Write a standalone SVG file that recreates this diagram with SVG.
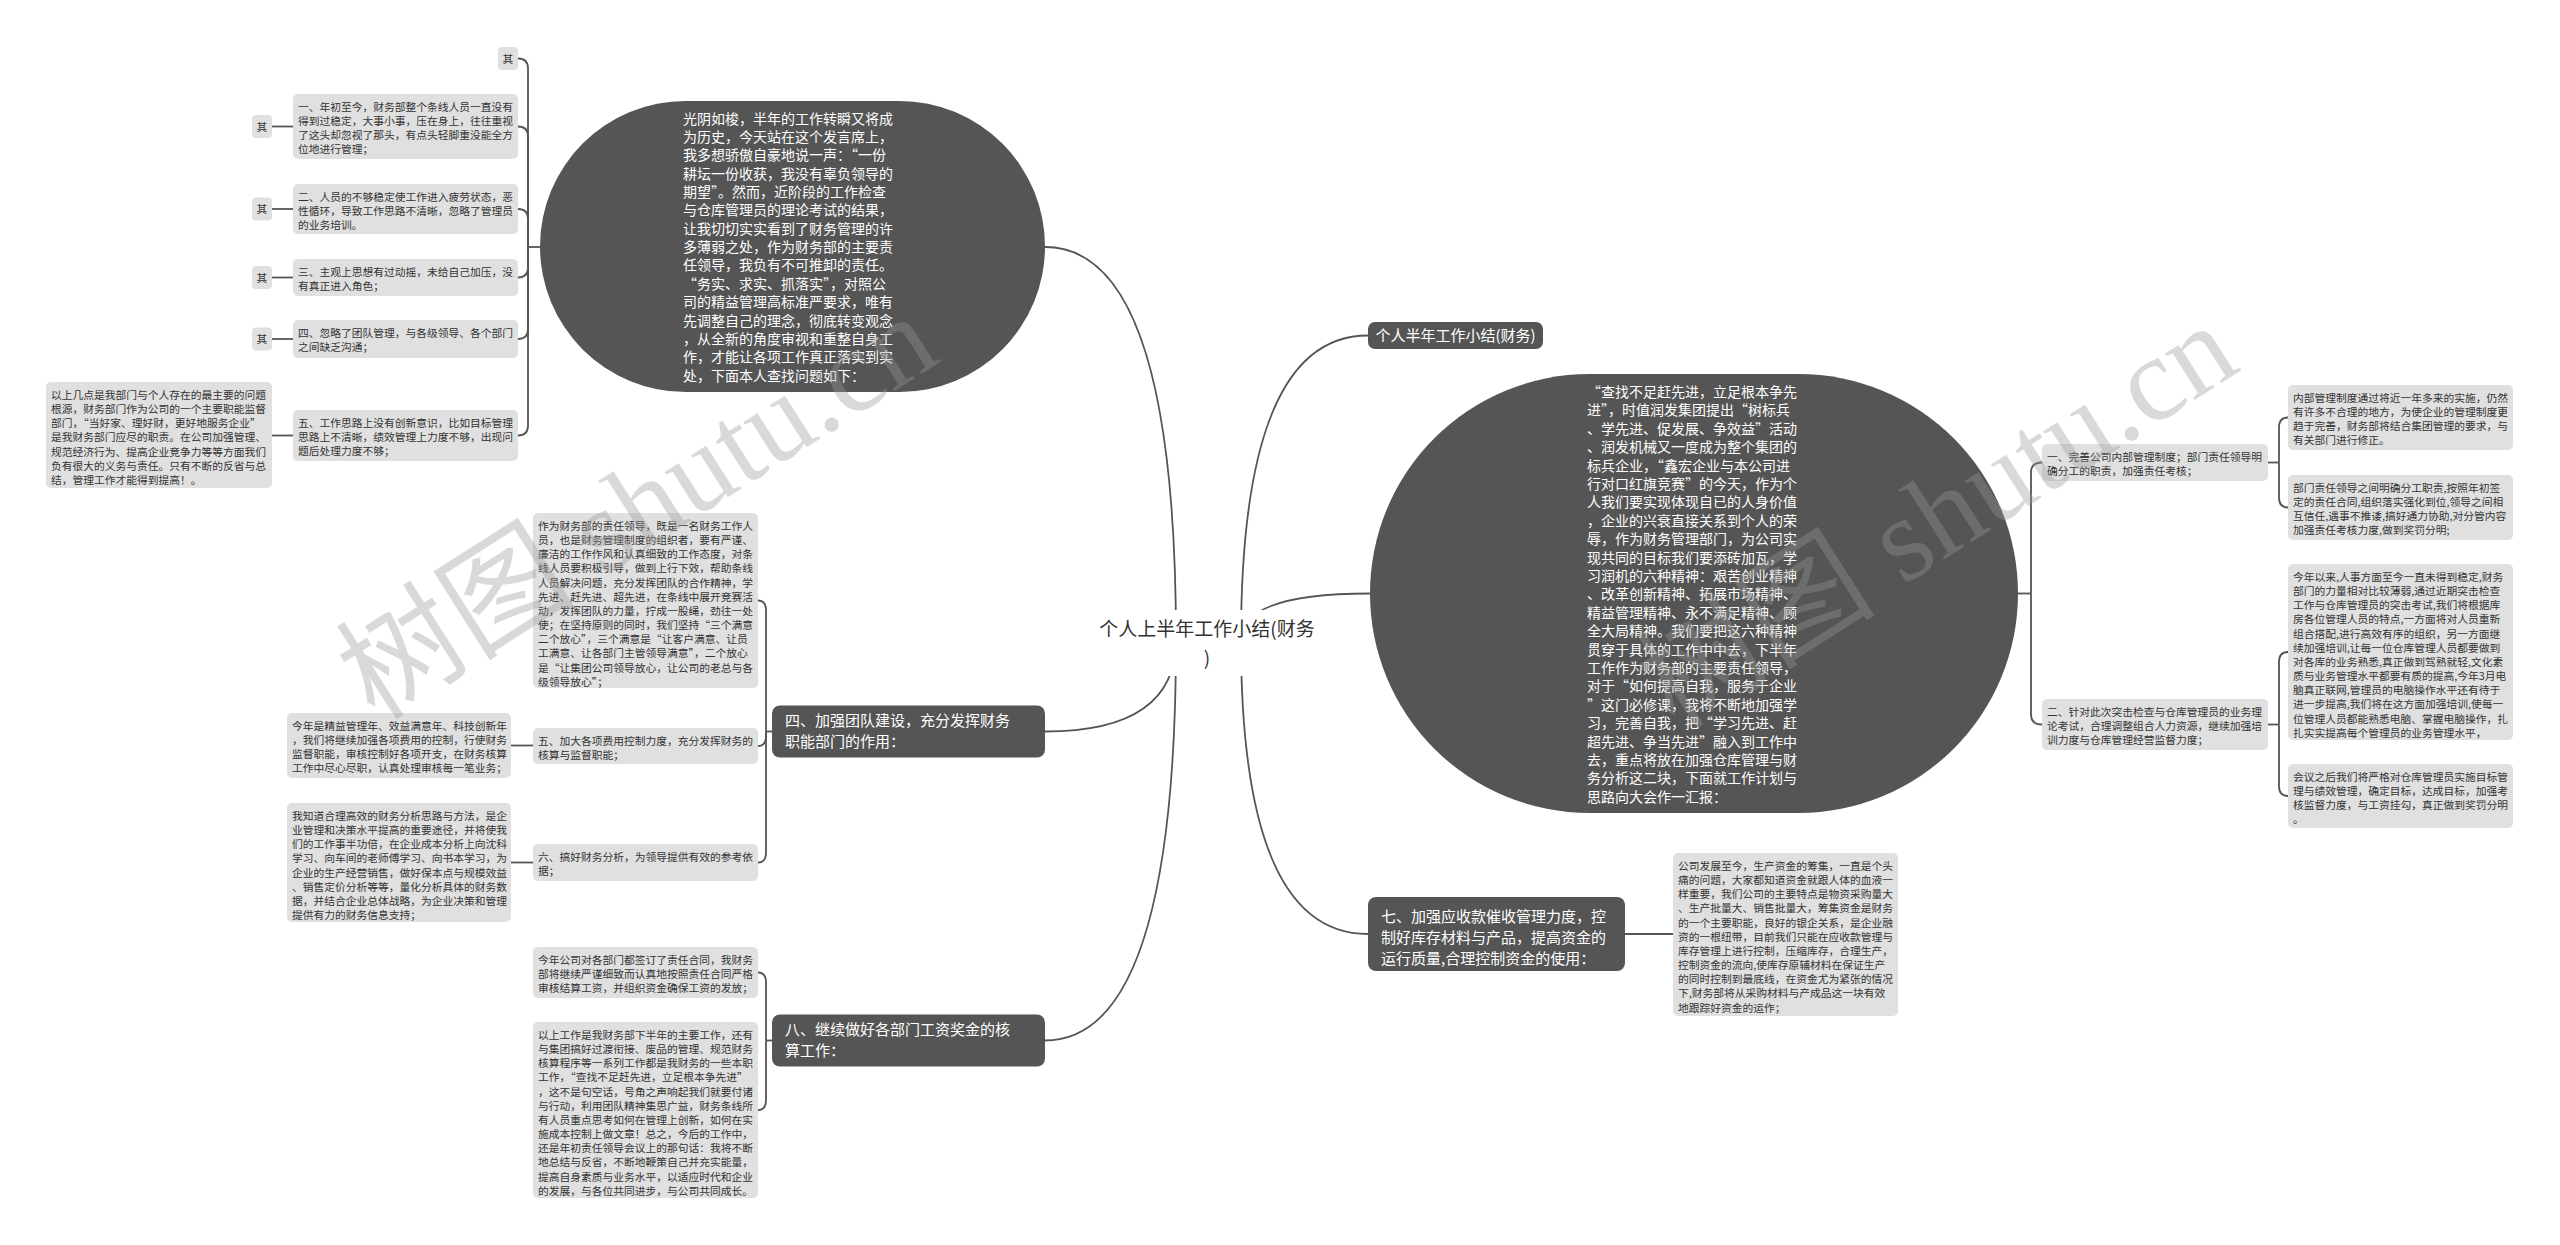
<svg xmlns="http://www.w3.org/2000/svg" width="2560" height="1245" viewBox="0 0 2560 1245">
<style>
text{font-family:"Noto Sans CJK SC","Noto Sans",sans-serif}
.leaf{fill:#e0e0e0}
.lt{font-size:10.75px;fill:#333}
.dark{fill:#555}
.dt{font-size:15px;fill:#fff}
.et{font-size:14px;fill:#fff}
.ct{font-size:19px;fill:#333}
.conn path{fill:none;stroke:#555;stroke-width:1.8}
.wm{font-family:"Liberation Serif","Noto Sans CJK SC",serif;font-size:120px;fill:#999;opacity:0.36}
</style>
<rect width="2560" height="1245" fill="#fff"/>
<g id="connectors" class="conn">
<path d="M1176 640 Q1176 247 1045 247"/>
<path d="M1176 640 Q1176 731.5 1045 731.5"/>
<path d="M1176 640 Q1176 1040.5 1045 1040.5"/>
<path d="M1241 640 Q1241 335.5 1368 335.5"/>
<path d="M1241 640 Q1241 593.5 1370 593.5"/>
<path d="M1241 640 Q1241 934 1368 934"/>
<path d="M540 247 H528"/>
<path d="M528 247 V68.5 Q528 58.5 518 58.5"/>
<path d="M528 247 V136.5 Q528 126.5 518 126.5"/>
<path d="M528 247 V219 Q528 209 518 209"/>
<path d="M528 247 V267.5 Q528 277.5 518 277.5"/>
<path d="M528 247 V329 Q528 339 518 339"/>
<path d="M528 247 V425.5 Q528 435.5 518 435.5"/>
<path d="M272 126.5 H293"/>
<path d="M272 209 H293"/>
<path d="M272 277.5 H293"/>
<path d="M272 339 H293"/>
<path d="M272 435.5 H293"/>
<path d="M772 731.5 H766"/>
<path d="M766 731.5 V610.5 Q766 600.5 758 600.5"/>
<path d="M766 731.5 V736 Q766 746 758 746"/>
<path d="M766 731.5 V852.5 Q766 862.5 758 862.5"/>
<path d="M511 745.5 H533"/>
<path d="M511 862.5 H533"/>
<path d="M772 1040.5 H766"/>
<path d="M766 1040.5 V982.5 Q766 972.5 758 972.5"/>
<path d="M766 1040.5 V1100 Q766 1110 758 1110"/>
<path d="M2018 593.5 H2031"/>
<path d="M2031 593.5 V472.5 Q2031 462.5 2042 462.5"/>
<path d="M2031 593.5 V714.5 Q2031 724.5 2042 724.5"/>
<path d="M2268 462.5 H2279"/>
<path d="M2279 462.5 V427.5 Q2279 417.5 2288 417.5"/>
<path d="M2279 462.5 V497.5 Q2279 507.5 2288 507.5"/>
<path d="M2268 724.5 H2279"/>
<path d="M2279 724.5 V662 Q2279 652 2288 652"/>
<path d="M2279 724.5 V786 Q2279 796 2288 796"/>
<path d="M1625 934 H1673"/>
</g>

<g id="center">
<rect x="1092" y="610" width="232" height="66" fill="#fff"/>
<text class="ct" text-anchor="middle"><tspan x="1207" y="636">个人上半年工作小结(财务</tspan><tspan x="1207" y="665">)</tspan></text>
</g>

<g id="intro">
<rect class="dark" x="540" y="101" width="505" height="291" rx="145.5"/>
<text class="et"><tspan x="683" y="123.6">光阴如梭，半年的工作转瞬又将成</tspan><tspan x="683" dy="18.36">为历史，今天站在这个发言席上，</tspan><tspan x="683" dy="18.36">我多想骄傲自豪地说一声：“一份</tspan><tspan x="683" dy="18.36">耕坛一份收获，我没有辜负领导的</tspan><tspan x="683" dy="18.36">期望”。然而，近阶段的工作检查</tspan><tspan x="683" dy="18.36">与仓库管理员的理论考试的结果，</tspan><tspan x="683" dy="18.36">让我切切实实看到了财务管理的许</tspan><tspan x="683" dy="18.36">多薄弱之处，作为财务部的主要责</tspan><tspan x="683" dy="18.36">任领导，我负有不可推卸的责任。</tspan><tspan x="683" dy="18.36">“务实、求实、抓落实”，对照公</tspan><tspan x="683" dy="18.36">司的精益管理高标准严要求，唯有</tspan><tspan x="683" dy="18.36">先调整自己的理念，彻底转变观念</tspan><tspan x="683" dy="18.36">，从全新的角度审视和重整自身工</tspan><tspan x="683" dy="18.36">作，才能让各项工作真正落实到实</tspan><tspan x="683" dy="18.36">处，下面本人查找问题如下：</tspan></text>
</g>

<g id="qi0"><rect class="leaf" x="498" y="47" width="20" height="23" rx="4"/><text class="lt" x="508" y="62.5" text-anchor="middle">其</text></g>

<g id="p1"><rect class="leaf" x="293" y="94" width="225" height="65" rx="5"/>
<text class="lt"><tspan x="298" y="111">一、年初至今，财务部整个条线人员一直没有</tspan><tspan x="298" dy="14.15">得到过稳定，大事小事，压在身上，往往重视</tspan><tspan x="298" dy="14.15">了这头却忽视了那头，有点头轻脚重没能全方</tspan><tspan x="298" dy="14.15">位地进行管理；</tspan></text></g>
<g id="qi1"><rect class="leaf" x="252" y="115" width="20" height="23" rx="4"/><text class="lt" x="262" y="130.5" text-anchor="middle">其</text></g>

<g id="p2"><rect class="leaf" x="293" y="184" width="225" height="50" rx="5"/>
<text class="lt"><tspan x="298" y="201">二、人员的不够稳定使工作进入疲劳状态，恶</tspan><tspan x="298" dy="14.15">性循环，导致工作思路不清晰，忽略了管理员</tspan><tspan x="298" dy="14.15">的业务培训。</tspan></text></g>
<g id="qi2"><rect class="leaf" x="252" y="197.5" width="20" height="23" rx="4"/><text class="lt" x="262" y="213" text-anchor="middle">其</text></g>

<g id="p3"><rect class="leaf" x="293" y="259" width="225" height="37" rx="5"/>
<text class="lt"><tspan x="298" y="276">三、主观上思想有过动摇，未给自己加压，没</tspan><tspan x="298" dy="14.15">有真正进入角色；</tspan></text></g>
<g id="qi3"><rect class="leaf" x="252" y="266" width="20" height="23" rx="4"/><text class="lt" x="262" y="281.5" text-anchor="middle">其</text></g>

<g id="p4"><rect class="leaf" x="293" y="320" width="225" height="38" rx="5"/>
<text class="lt"><tspan x="298" y="337">四、忽略了团队管理，与各级领导、各个部门</tspan><tspan x="298" dy="14.15">之间缺乏沟通；</tspan></text></g>
<g id="qi4"><rect class="leaf" x="252" y="327.5" width="20" height="23" rx="4"/><text class="lt" x="262" y="343" text-anchor="middle">其</text></g>

<g id="p5"><rect class="leaf" x="293" y="410" width="225" height="51" rx="5"/>
<text class="lt"><tspan x="298" y="427">五、工作思路上没有创新意识，比如目标管理</tspan><tspan x="298" dy="14.15">思路上不清晰，绩效管理上力度不够，出现问</tspan><tspan x="298" dy="14.15">题后处理力度不够；</tspan></text></g>

<g id="p5c"><rect class="leaf" x="46" y="382" width="226" height="106" rx="5"/>
<text class="lt"><tspan x="51" y="399">以上几点是我部门与个人存在的最主要的问题</tspan><tspan x="51" dy="14.15">根源，财务部门作为公司的一个主要职能监督</tspan><tspan x="51" dy="14.15">部门，“当好家、理好财，更好地服务企业”</tspan><tspan x="51" dy="14.15">是我财务部门应尽的职责。在公司加强管理、</tspan><tspan x="51" dy="14.15">规范经济行为、提高企业竞争力等等方面我们</tspan><tspan x="51" dy="14.15">负有很大的义务与责任。只有不断的反省与总</tspan><tspan x="51" dy="14.15">结，管理工作才能得到提高！。</tspan></text></g>

<g id="team"><rect class="dark" x="772" y="705.5" width="273" height="52" rx="8"/>
<text class="dt"><tspan x="785" y="725.7">四、加强团队建设，充分发挥财务</tspan><tspan x="785" dy="21">职能部门的作用：</tspan></text></g>

<g id="t1"><rect class="leaf" x="533" y="513" width="225" height="175" rx="5"/>
<text class="lt"><tspan x="538" y="530">作为财务部的责任领导，既是一名财务工作人</tspan><tspan x="538" dy="14.15">员，也是财务管理制度的组织者，要有严谨、</tspan><tspan x="538" dy="14.15">廉洁的工作作风和认真细致的工作态度，对条</tspan><tspan x="538" dy="14.15">线人员要积极引导，做到上行下效，帮助条线</tspan><tspan x="538" dy="14.15">人员解决问题，充分发挥团队的合作精神，学</tspan><tspan x="538" dy="14.15">先进、赶先进、超先进，在条线中展开竞赛活</tspan><tspan x="538" dy="14.15">动，发挥团队的力量，拧成一股绳，劲往一处</tspan><tspan x="538" dy="14.15">使；在坚持原则的同时，我们坚持“三个满意</tspan><tspan x="538" dy="14.15">二个放心”，三个满意是“让客户满意、让员</tspan><tspan x="538" dy="14.15">工满意、让各部门主管领导满意”，二个放心</tspan><tspan x="538" dy="14.15">是“让集团公司领导放心，让公司的老总与各</tspan><tspan x="538" dy="14.15">级领导放心”；</tspan></text></g>

<g id="t2"><rect class="leaf" x="533" y="728" width="225" height="36" rx="5"/>
<text class="lt"><tspan x="538" y="745">五、加大各项费用控制力度，充分发挥财务的</tspan><tspan x="538" dy="14.15">核算与监督职能；</tspan></text></g>
<g id="t2c"><rect class="leaf" x="287" y="713" width="224" height="65" rx="5"/>
<text class="lt"><tspan x="292" y="730">今年是精益管理年、效益满意年、科技创新年</tspan><tspan x="292" dy="14.15">，我们将继续加强各项费用的控制，行使财务</tspan><tspan x="292" dy="14.15">监督职能，审核控制好各项开支，在财务核算</tspan><tspan x="292" dy="14.15">工作中尽心尽职，认真处理审核每一笔业务；</tspan></text></g>

<g id="t3"><rect class="leaf" x="533" y="844" width="225" height="37" rx="5"/>
<text class="lt"><tspan x="538" y="861">六、搞好财务分析，为领导提供有效的参考依</tspan><tspan x="538" dy="14.15">据；</tspan></text></g>
<g id="t3c"><rect class="leaf" x="287" y="803" width="224" height="119" rx="5"/>
<text class="lt"><tspan x="292" y="820">我知道合理高效的财务分析思路与方法，是企</tspan><tspan x="292" dy="14.15">业管理和决策水平提高的重要途径，并将使我</tspan><tspan x="292" dy="14.15">们的工作事半功倍，在企业成本分析上向沈科</tspan><tspan x="292" dy="14.15">学习、向车间的老师傅学习、向书本学习，为</tspan><tspan x="292" dy="14.15">企业的生产经营销售，做好保本点与规模效益</tspan><tspan x="292" dy="14.15">、销售定价分析等等，量化分析具体的财务数</tspan><tspan x="292" dy="14.15">据，并结合企业总体战略，为企业决策和管理</tspan><tspan x="292" dy="14.15">提供有力的财务信息支持；</tspan></text></g>

<g id="wage"><rect class="dark" x="772" y="1014.5" width="273" height="52" rx="8"/>
<text class="dt"><tspan x="785" y="1034.7">八、继续做好各部门工资奖金的核</tspan><tspan x="785" dy="21">算工作：</tspan></text></g>
<g id="w1"><rect class="leaf" x="533" y="947" width="225" height="51" rx="5"/>
<text class="lt"><tspan x="538" y="964">今年公司对各部门都签订了责任合同，我财务</tspan><tspan x="538" dy="14.15">部将继续严谨细致而认真地按照责任合同严格</tspan><tspan x="538" dy="14.15">审核结算工资，并组织资金确保工资的发放；</tspan></text></g>
<g id="w2"><rect class="leaf" x="533" y="1022" width="225" height="176" rx="5"/>
<text class="lt"><tspan x="538" y="1039">以上工作是我财务部下半年的主要工作，还有</tspan><tspan x="538" dy="14.15">与集团搞好过渡衔接、废品的管理、规范财务</tspan><tspan x="538" dy="14.15">核算程序等一系列工作都是我财务的一些本职</tspan><tspan x="538" dy="14.15">工作，“查找不足赶先进，立足根本争先进”</tspan><tspan x="538" dy="14.15">，这不是句空话，号角之声响起我们就要付诸</tspan><tspan x="538" dy="14.15">与行动，利用团队精神集思广益，财务条线所</tspan><tspan x="538" dy="14.15">有人员重点思考如何在管理上创新，如何在实</tspan><tspan x="538" dy="14.15">施成本控制上做文章！总之，今后的工作中，</tspan><tspan x="538" dy="14.15">还是年初责任领导会议上的那句话：我将不断</tspan><tspan x="538" dy="14.15">地总结与反省，不断地鞭策自己并充实能量，</tspan><tspan x="538" dy="14.15">提高自身素质与业务水平，以适应时代和企业</tspan><tspan x="538" dy="14.15">的发展，与各位共同进步，与公司共同成长。</tspan></text></g>

<g id="title2"><rect class="dark" x="1368" y="322" width="175" height="27" rx="7"/>
<text class="dt" x="1455.5" y="341" text-anchor="middle">个人半年工作小结(财务)</text></g>

<g id="plan">
<rect class="dark" x="1370" y="374" width="648" height="439" rx="219.5"/>
<text class="et"><tspan x="1587" y="397">“查找不足赶先进，立足根本争先</tspan><tspan x="1587" dy="18.4">进”，时值润发集团提出“树标兵</tspan><tspan x="1587" dy="18.4">、学先进、促发展、争效益”活动</tspan><tspan x="1587" dy="18.4">、润发机械又一度成为整个集团的</tspan><tspan x="1587" dy="18.4">标兵企业，“鑫宏企业与本公司进</tspan><tspan x="1587" dy="18.4">行对口红旗竞赛”的今天，作为个</tspan><tspan x="1587" dy="18.4">人我们要实现体现自已的人身价值</tspan><tspan x="1587" dy="18.4">，企业的兴衰直接关系到个人的荣</tspan><tspan x="1587" dy="18.4">辱，作为财务管理部门，为公司实</tspan><tspan x="1587" dy="18.4">现共同的目标我们要添砖加瓦，学</tspan><tspan x="1587" dy="18.4">习润机的六种精神：艰苦创业精神</tspan><tspan x="1587" dy="18.4">、改革创新精神、拓展市场精神、</tspan><tspan x="1587" dy="18.4">精益管理精神、永不满足精神、顾</tspan><tspan x="1587" dy="18.4">全大局精神。我们要把这六种精神</tspan><tspan x="1587" dy="18.4">贯穿于具体的工作中中去，下半年</tspan><tspan x="1587" dy="18.4">工作作为财务部的主要责任领导，</tspan><tspan x="1587" dy="18.4">对于“如何提高自我，服务于企业</tspan><tspan x="1587" dy="18.4">”这门必修课，我将不断地加强学</tspan><tspan x="1587" dy="18.4">习，完善自我，把“学习先进、赶</tspan><tspan x="1587" dy="18.4">超先进、争当先进”融入到工作中</tspan><tspan x="1587" dy="18.4">去，重点将放在加强仓库管理与财</tspan><tspan x="1587" dy="18.4">务分析这二块，下面就工作计划与</tspan><tspan x="1587" dy="18.4">思路向大会作一汇报：</tspan></text>
</g>

<g id="r1"><rect class="leaf" x="2042" y="444" width="226" height="37" rx="5"/>
<text class="lt"><tspan x="2047" y="461">一、完善公司内部管理制度；部门责任领导明</tspan><tspan x="2047" dy="14.15">确分工的职责，加强责任考核；</tspan></text></g>
<g id="r1a"><rect class="leaf" x="2288" y="385" width="225" height="65" rx="5"/>
<text class="lt"><tspan x="2293" y="402">内部管理制度通过将近一年多来的实施，仍然</tspan><tspan x="2293" dy="14.15">有许多不合理的地方，为使企业的管理制度更</tspan><tspan x="2293" dy="14.15">趋于完善，财务部将结合集团管理的要求，与</tspan><tspan x="2293" dy="14.15">有关部门进行修正。</tspan></text></g>
<g id="r1b"><rect class="leaf" x="2288" y="475" width="225" height="65" rx="5"/>
<text class="lt"><tspan x="2293" y="492">部门责任领导之间明确分工职责,按照年初签</tspan><tspan x="2293" dy="14.15">定的责任合同,组织落实强化到位,领导之间相</tspan><tspan x="2293" dy="14.15">互信任,遇事不推诿,搞好通力协助,对分管内容</tspan><tspan x="2293" dy="14.15">加强责任考核力度,做到奖罚分明;</tspan></text></g>

<g id="r2"><rect class="leaf" x="2042" y="699" width="226" height="51" rx="5"/>
<text class="lt"><tspan x="2047" y="716">二、针对此次突击检查与仓库管理员的业务理</tspan><tspan x="2047" dy="14.15">论考试，合理调整组合人力资源，继续加强培</tspan><tspan x="2047" dy="14.15">训力度与仓库管理经营监督力度；</tspan></text></g>
<g id="r2a"><rect class="leaf" x="2288" y="564" width="225" height="176" rx="5"/>
<text class="lt"><tspan x="2293" y="581">今年以来,人事方面至今一直未得到稳定,财务</tspan><tspan x="2293" dy="14.15">部门的力量相对比较薄弱,通过近期突击检查</tspan><tspan x="2293" dy="14.15">工作与仓库管理员的突击考试,我们将根据库</tspan><tspan x="2293" dy="14.15">房各位管理人员的特点,一方面将对人员重新</tspan><tspan x="2293" dy="14.15">组合搭配,进行高效有序的组织，另一方面继</tspan><tspan x="2293" dy="14.15">续加强培训,让每一位仓库管理人员都要做到</tspan><tspan x="2293" dy="14.15">对各库的业务熟悉,真正做到驾熟就轻,文化素</tspan><tspan x="2293" dy="14.15">质与业务管理水平都要有质的提高,今年3月电</tspan><tspan x="2293" dy="14.15">脑真正联网,管理员的电脑操作水平还有待于</tspan><tspan x="2293" dy="14.15">进一步提高,我们将在这方面加强培训,使每一</tspan><tspan x="2293" dy="14.15">位管理人员都能熟悉电脑、掌握电脑操作，扎</tspan><tspan x="2293" dy="14.15">扎实实提高每个管理员的业务管理水平，</tspan></text></g>
<g id="r2b"><rect class="leaf" x="2288" y="764" width="225" height="64" rx="5"/>
<text class="lt"><tspan x="2293" y="781">会议之后我们将严格对仓库管理员实施目标管</tspan><tspan x="2293" dy="14.15">理与绩效管理，确定目标，达成目标，加强考</tspan><tspan x="2293" dy="14.15">核监督力度，与工资挂勾，真正做到奖罚分明</tspan><tspan x="2293" dy="14.15">。</tspan></text></g>

<g id="fund"><rect class="dark" x="1368" y="897" width="257" height="74" rx="8"/>
<text class="dt"><tspan x="1381" y="921.7">七、加强应收款催收管理力度，控</tspan><tspan x="1381" dy="21">制好库存材料与产品，提高资金的</tspan><tspan x="1381" dy="21">运行质量,合理控制资金的使用：</tspan></text></g>
<g id="f1"><rect class="leaf" x="1673" y="853" width="225" height="163" rx="5"/>
<text class="lt"><tspan x="1678" y="870">公司发展至今，生产资金的筹集，一直是个头</tspan><tspan x="1678" dy="14.15">痛的问题，大家都知道资金就跟人体的血液一</tspan><tspan x="1678" dy="14.15">样重要，我们公司的主要特点是物资采购量大</tspan><tspan x="1678" dy="14.15">、生产批量大、销售批量大，筹集资金是财务</tspan><tspan x="1678" dy="14.15">的一个主要职能，良好的银企关系，是企业融</tspan><tspan x="1678" dy="14.15">资的一根纽带，目前我们只能在应收款管理与</tspan><tspan x="1678" dy="14.15">库存管理上进行控制，压缩库存，合理生产，</tspan><tspan x="1678" dy="14.15">控制资金的流向,使库存原辅材料在保证生产</tspan><tspan x="1678" dy="14.15">的同时控制到最底线，在资金尤为紧张的情况</tspan><tspan x="1678" dy="14.15">下,财务部将从采购材料与产成品这一块有效</tspan><tspan x="1678" dy="14.15">地跟踪好资金的运作；</tspan></text></g>

<g id="watermark">
<text class="wm" x="375" y="722" transform="rotate(-32.5 375 722)">树图 shutu.cn</text>
<text class="wm" x="1675" y="731" transform="rotate(-32.5 1675 731)">树图 shutu.cn</text>
</g>
</svg>
